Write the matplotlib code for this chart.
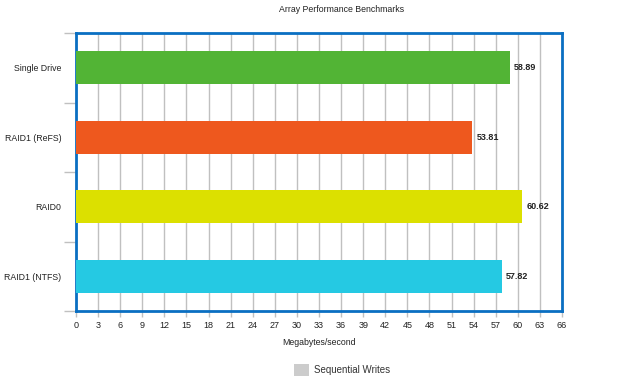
import numpy as np
import matplotlib.pyplot as plt
from matplotlib.patches import Patch

categories = ["Single Drive", "RAID1 (ReFS)", "RAID0", "RAID1 (NTFS)"]
speeds = [58.89, 53.81, 60.62, 57.82]
bar_colors = ["#52b435", "#ee581e", "#dce000", "#25c9e3"]
x_ticks = list(range(0, 67, 3))
series_name = "Sequential Writes"

plt.rcParams['font.family'] = ['Liberation Sans', 'DejaVu Sans']

fig = plt.figure(figsize=(6.4, 3.8), dpi=100)
ax = fig.add_axes([76 / 640, 1 - 311 / 380, (562 - 76) / 640, (311 - 33) / 380])

y = np.arange(len(categories))
ax.barh(y, speeds, height=0.47, color=bar_colors, zorder=3)
for yi, v in zip(y, speeds):
    ax.text(v + 0.6, yi, f"{v:.2f}", va="center", ha="left", fontsize=6.5,
            fontweight="bold", color="#222222", zorder=4)

ax.set_xlim(0, 66)
ax.set_ylim(len(categories) - 0.5, -0.5)
ax.set_xticks(x_ticks)
ax.set_xticklabels([str(t) for t in x_ticks], fontsize=6.5, color="#222222")
ax.set_yticks(y)
ax.set_yticklabels(categories, fontsize=6.3, color="#222222")
ax.set_yticks(np.arange(-0.5, len(categories)), minor=True)
ax.tick_params(axis="y", which="major", length=0, pad=10.5)
ax.tick_params(axis="y", which="minor", length=9, color="#c0c0c0", width=1)
ax.tick_params(axis="x", which="major", length=4, color="#c0c0c0", width=1, pad=3)

ax.grid(axis="x", color="#c0c0c0", linewidth=1, zorder=0)
ax.set_axisbelow(True)
for s in ax.spines.values():
    s.set_color("#0a6fc2")
    s.set_linewidth(2)

ax.set_xlabel("Megabytes/second", fontsize=6.3, color="#222222", labelpad=6)
fig.text(342 / 640, 1 - 10 / 380, "Array Performance Benchmarks", ha="center", va="center",
         fontsize=6.3, color="#222222")

handle = Patch(facecolor="#cccccc", edgecolor="none", label=series_name)
fig.legend(handles=[handle], loc="center", bbox_to_anchor=(342 / 640, 1 - 370 / 380),
           frameon=False, fontsize=7, handlelength=1.5, handleheight=1.5,
           handletextpad=0.5, labelcolor="#333333")

fig.savefig("out.png", dpi=100)
